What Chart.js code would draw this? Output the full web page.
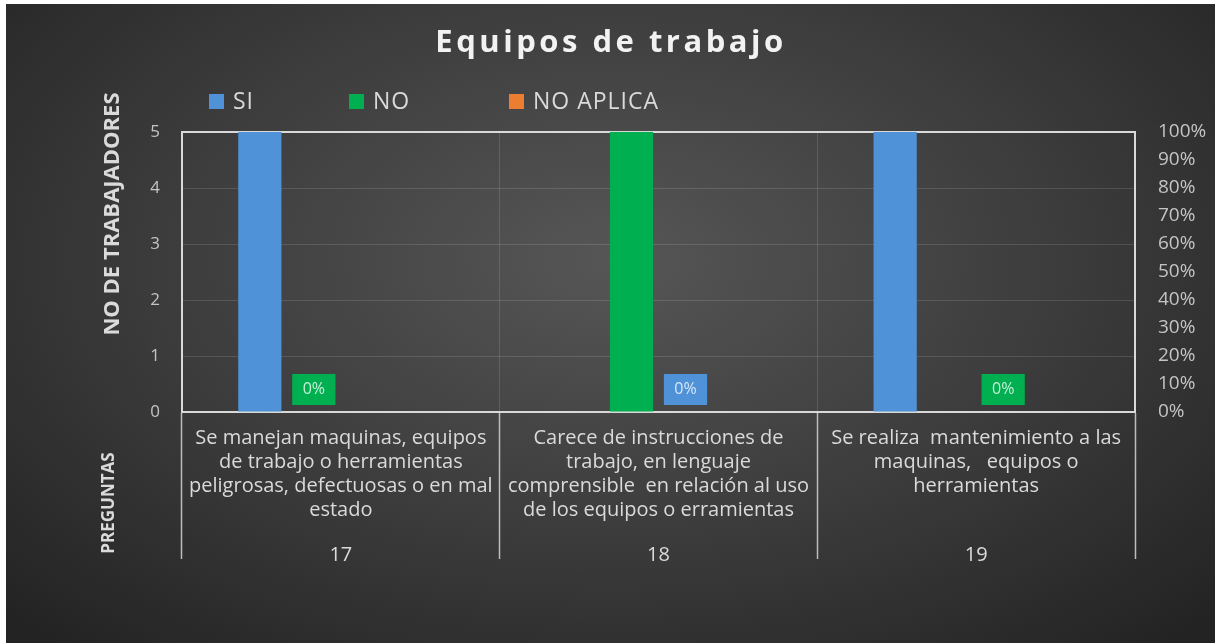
<!DOCTYPE html>
<html>
<head>
<meta charset="utf-8">
<script src="https://cdn.jsdelivr.net/npm/chart.js@4.4.1/dist/chart.umd.min.js"></script>
<style>
  html, body { margin: 0; padding: 0; background: #fff; }
  #wrap { position: relative; width: 1223px; height: 643px; }
  #bg { position: absolute; left: 6px; top: 4px; width: 1209px; height: 639px;
        background: radial-gradient(ellipse 70% 80% at 50% 40%, #565656 0%, #3b3b3b 55%, #232323 100%); }
  canvas { position: absolute; left: 0; top: 0; }
</style>
</head>
<body>
<div id="wrap"><div id="bg"></div><canvas id="chart" width="1223" height="643"></canvas></div>
<script>
// question texts (one array of lines per question) and their numbers
const categories = [
    ['Se manejan maquinas, equipos', 'de trabajo o herramientas', 'peligrosas, defectuosas o en mal', 'estado'],
    ['Carece de instrucciones de', 'trabajo, en lenguaje', 'comprensible  en relación al uso', 'de los equipos o erramientas'],
    ['Se realiza  mantenimiento a las', 'maquinas,   equipos o', 'herramientas']
];
const questionNumbers = ['17', '18', '19'];

// number of workers per answer
const siValues = [5, null, 5];
const noValues = [0, 5, null];
const noAplicaValues = [0, 0, 0];

// percentage labels on the secondary axis (and which answer they belong to)
const zeroShareValues = [null, 0, 0];
const zeroShareOwner = [null, 'SI', 'NO'];

const countTicks = [0, 1, 2, 3, 4, 5];
const percentTicks = [0, 10, 20, 30, 40, 50, 60, 70, 80, 90, 100];

const colors = { SI: '#4f92d8', NO: '#00b050', 'NO APLICA': '#ed7d31' };
const textColor = '#dadada';
const tickColor = '#c4c4c4';

// title, legend, axis titles and the little "0%" boxes
const decorPlugin = {
    id: 'decor',
    afterDatasetsDraw(chart) {
        const ctx = chart.ctx;
        chart.data.datasets.forEach((ds, di) => {
            if (!ds.valueLabels) return;
            const meta = chart.getDatasetMeta(di);
            meta.data.forEach((bar, i) => {
                const v = ds.data[i];
                if (v !== 0) return;
                const p = bar.getProps(['x', 'base', 'width'], true);
                const h = 31;
                const bottom = p.base - 7;
                ctx.save();
                ctx.fillStyle = bar.options.backgroundColor;
                ctx.fillRect(p.x - p.width / 2, bottom - h, p.width, h);
                ctx.fillStyle = 'rgba(255,255,255,0.78)';
                ctx.font = '16px "Open Sans"';
                ctx.textAlign = 'center';
                ctx.textBaseline = 'middle';
                ctx.fillText(v + '%', p.x, bottom - h / 2);
                ctx.restore();
            });
        });
    },
    afterDraw(chart) {
        const ctx = chart.ctx;
        ctx.save();
        // title
        ctx.fillStyle = '#f2f2f2';
        ctx.font = '700 31px "Open Sans"';
        ctx.letterSpacing = '3.5px';
        ctx.textAlign = 'center';
        ctx.textBaseline = 'middle';
        ctx.fillText('Equipos de trabajo', 611, 43);

        // legend
        ctx.font = '23px "Open Sans"';
        ctx.letterSpacing = '1px';
        ctx.textAlign = 'left';
        const legendX = [209, 349, 509];
        let k = 0;
        chart.data.datasets.forEach(ds => {
            if (ds.hideInLegend) return;
            const x = legendX[k++];
            ctx.fillStyle = colors[ds.label];
            ctx.fillRect(x, 94, 15, 15);
            ctx.fillStyle = textColor;
            ctx.fillText(ds.label, x + 24, 102);
        });

        // axis titles
        ctx.letterSpacing = '0px';
        ctx.textAlign = 'center';
        ctx.fillStyle = textColor;
        ctx.translate(113, 214);
        ctx.rotate(-Math.PI / 2);
        ctx.font = '700 22px "Open Sans"';
        ctx.fillText('NO DE TRABAJADORES', 0, 0);
        ctx.rotate(Math.PI / 2);
        ctx.translate(-4, 289);
        ctx.rotate(-Math.PI / 2);
        ctx.font = '700 17px "Open Sans"';
        ctx.fillText('PREGUNTAS', 0, 0);
        ctx.restore();
    }
};

const ctx = document.getElementById('chart').getContext('2d');
const chart = new Chart(ctx, {
    type: 'bar',
    data: {
        labels: categories,
        datasets: [
            { label: 'SI', data: siValues, backgroundColor: colors.SI, yAxisID: 'y' },
            { label: 'NO', data: noValues, backgroundColor: colors.NO, yAxisID: 'y', valueLabels: true },
            {
                label: '%', data: zeroShareValues, yAxisID: 'y1', valueLabels: true, hideInLegend: true,
                backgroundColor: zeroShareOwner.map(o => o ? colors[o] : 'transparent')
            },
            { label: 'NO APLICA', data: noAplicaValues, backgroundColor: colors['NO APLICA'], yAxisID: 'y' }
        ]
    },
    options: {
        responsive: false,
        animation: false,
        devicePixelRatio: 1,
        categoryPercentage: 0.68,
        barPercentage: 0.8,
        layout: { padding: { top: 132, bottom: 69, left: 0, right: 0 } },
        plugins: {
            legend: { display: false },
            title: { display: false },
            tooltip: { enabled: false }
        },
        scales: {
            x: {
                weight: 0,
                grid: {
                    color: 'rgba(255,255,255,0.13)',
                    tickColor: '#bdbdbd',
                    tickLength: 147,
                    tickWidth: 1.5
                },
                border: { display: true, color: '#d9d9d9', width: 2 },
                ticks: {
                    color: textColor,
                    font: { family: 'Open Sans', size: 20, lineHeight: 1.2 },
                    padding: -133,
                    maxRotation: 0,
                    minRotation: 0,
                    autoSkip: false
                },
                afterFit: s => { s.height = 112; }
            },
            x2: {
                type: 'category',
                position: 'bottom',
                labels: questionNumbers,
                weight: 1,
                offset: true,
                grid: { display: false },
                border: { display: false },
                ticks: {
                    color: textColor,
                    font: { family: 'Open Sans', size: 20, lineHeight: 1.2 },
                    padding: 11,
                    maxRotation: 0
                },
                afterFit: s => { s.height = 50; }
            },
            y: {
                position: 'left',
                min: 0,
                max: 5,
                afterBuildTicks: s => { s.ticks = countTicks.map(v => ({ value: v })); },
                grid: {
                    drawTicks: false,
                    color: c => c.tick && c.tick.value === 5 ? '#d9d9d9' : 'rgba(255,255,255,0.13)',
                    lineWidth: c => c.tick && c.tick.value === 5 ? 2 : 1
                },
                border: { display: true, color: '#d9d9d9', width: 2 },
                ticks: {
                    color: tickColor,
                    font: { family: 'Open Sans', size: 17 },
                    padding: 22
                },
                afterFit: s => { s.width = 182; }
            },
            y1: {
                position: 'right',
                min: 0,
                max: 100,
                afterBuildTicks: s => { s.ticks = percentTicks.map(v => ({ value: v })); },
                grid: { drawOnChartArea: false, drawTicks: false },
                border: { display: true, color: '#d9d9d9', width: 2 },
                ticks: {
                    color: tickColor,
                    font: { family: 'Open Sans', size: 19 },
                    padding: 23,
                    callback: v => v + '%'
                },
                afterFit: s => { s.width = 88; }
            }
        }
    },
    plugins: [decorPlugin]
});
</script>
</body>
</html>
